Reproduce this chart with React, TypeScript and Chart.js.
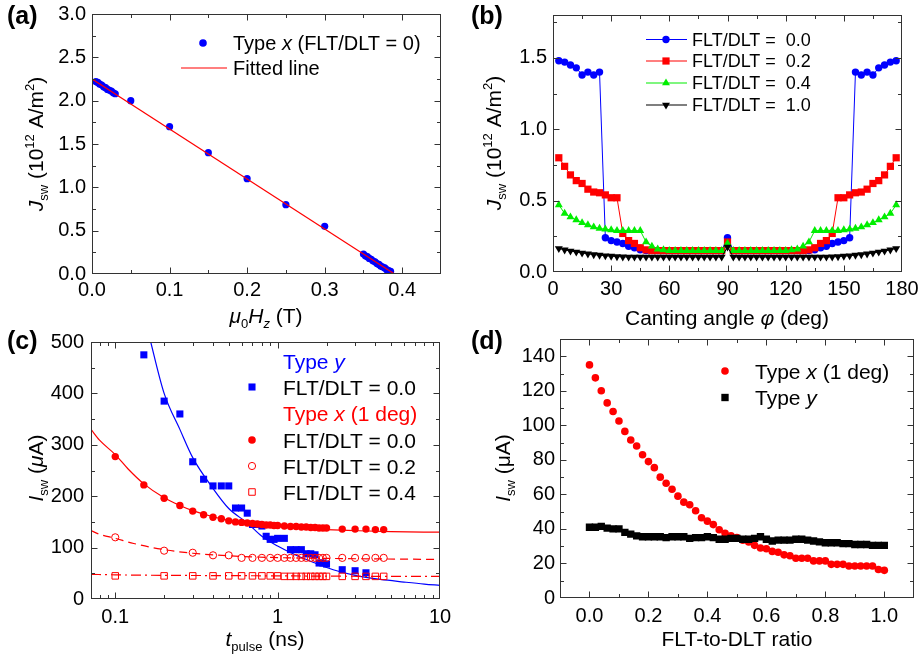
import React, { useEffect, useRef } from "react";
import { Chart, registerables } from "chart.js";
Chart.register(...registerables);

const FF = "'Liberation Sans', Arial, Helvetica, sans-serif";
const BLUE = "#0000ff";
const RED = "#ff0000";
const GREEN = "#00ee00";
const BLACK = "#000000";

// ---------------- Panel (a) ----------------
const aField = [0.005, 0.0075, 0.01, 0.0125, 0.015, 0.0175, 0.02, 0.0225, 0.025, 0.0275, 0.03, 0.05, 0.1, 0.15, 0.2, 0.25, 0.3, 0.35, 0.3525, 0.355, 0.3575, 0.36, 0.3625, 0.365, 0.3675, 0.37, 0.3725, 0.375, 0.3775, 0.38, 0.3825, 0.385];
const aJsw = [2.22, 2.21, 2.19, 2.18, 2.16, 2.15, 2.13, 2.12, 2.11, 2.09, 2.08, 2.0, 1.7, 1.4, 1.1, 0.8, 0.55, 0.23, 0.21, 0.2, 0.18, 0.17, 0.15, 0.14, 0.12, 0.11, 0.09, 0.08, 0.07, 0.05, 0.04, 0.03];
const aFitField = [0, 0.39];
const aFitJsw = [2.25, 0];
const aXTicks = [0, 0.1, 0.2, 0.3, 0.4];
const aXLabels = ["0.0", "0.1", "0.2", "0.3", "0.4"];
const aXMinor = [0.05, 0.15, 0.25, 0.35];
const aYTicks = [0, 0.5, 1, 1.5, 2, 2.5, 3];
const aYLabels = ["0.0", "0.5", "1.0", "1.5", "2.0", "2.5", "3.0"];
const aYMinor = [0.25, 0.75, 1.25, 1.75, 2.25, 2.75];

// ---------------- Panel (b) ----------------
const bAngle = [3, 6, 9, 12, 15, 18, 21, 24, 27, 30, 33, 36, 39, 42, 45, 48, 51, 54, 57, 60, 63, 66, 69, 72, 75, 78, 81, 84, 87, 90, 93, 96, 99, 102, 105, 108, 111, 114, 117, 120, 123, 126, 129, 132, 135, 138, 141, 144, 147, 150, 153, 156, 159, 162, 165, 168, 171, 174, 177];
const bR00 = [1.48, 1.47, 1.45, 1.43, 1.38, 1.40, 1.38, 1.40,
  0.24, 0.22, 0.21, 0.20, 0.18, 0.17, 0.155,
  0.15, 0.15, 0.15, 0.15, 0.15, 0.15, 0.15, 0.15, 0.15, 0.15, 0.15, 0.15, 0.15, 0.15,
  0.24,
  0.15, 0.15, 0.15, 0.15, 0.15, 0.15, 0.15, 0.15, 0.15, 0.15, 0.15, 0.15, 0.15, 0.15,
  0.155, 0.17, 0.18, 0.20, 0.21, 0.22, 0.24,
  1.40, 1.38, 1.40, 1.38, 1.43, 1.45, 1.47, 1.48];
const bR02 = [0.80, 0.74, 0.68, 0.64, 0.62, 0.58, 0.56, 0.555, 0.54, 0.52, 0.52,
  0.27, 0.22, 0.20, 0.17,
  0.155, 0.15, 0.15, 0.15, 0.15, 0.15, 0.15, 0.15, 0.15, 0.15, 0.15, 0.15, 0.15, 0.15,
  0.21,
  0.15, 0.15, 0.15, 0.15, 0.15, 0.15, 0.15, 0.15, 0.15, 0.15, 0.15, 0.15, 0.15, 0.155,
  0.17, 0.20, 0.22, 0.27,
  0.52, 0.52, 0.54, 0.555, 0.56, 0.58, 0.62, 0.64, 0.68, 0.74, 0.80];
const bR04 = [0.47, 0.41, 0.385, 0.365, 0.345, 0.33, 0.315, 0.305, 0.30, 0.295, 0.29, 0.29, 0.29, 0.29, 0.29,
  0.21, 0.18, 0.16, 0.155,
  0.15, 0.15, 0.15, 0.15, 0.15, 0.15, 0.15, 0.15, 0.15, 0.15,
  0.20,
  0.15, 0.15, 0.15, 0.15, 0.15, 0.15, 0.15, 0.15, 0.15, 0.15,
  0.155, 0.16, 0.18, 0.21,
  0.29, 0.29, 0.29, 0.29, 0.29, 0.295, 0.30, 0.305, 0.315, 0.33, 0.345, 0.365, 0.385, 0.41, 0.47];
const bR10 = [0.165, 0.155, 0.147, 0.14, 0.133, 0.127, 0.122, 0.118, 0.114, 0.111, 0.108, 0.106, 0.105,
  0.105, 0.105, 0.105, 0.105, 0.105, 0.105, 0.105, 0.105, 0.105, 0.105, 0.105, 0.105, 0.105, 0.105, 0.105, 0.105,
  0.175,
  0.105, 0.105, 0.105, 0.105, 0.105, 0.105, 0.105, 0.105, 0.105, 0.105, 0.105, 0.105, 0.105, 0.105, 0.105, 0.105,
  0.105, 0.106, 0.108, 0.111, 0.114, 0.118, 0.122, 0.127, 0.133, 0.14, 0.147, 0.155, 0.165];
const bXTicks = [0, 30, 60, 90, 120, 150, 180];
const bXLabels = ["0", "30", "60", "90", "120", "150", "180"];
const bXMinor = [15, 45, 75, 105, 135, 165];
const bYTicks = [0, 0.5, 1, 1.5];
const bYLabels = ["0.0", "0.5", "1.0", "1.5"];
const bYMinor = [0.25, 0.75, 1.25, 1.75];

// ---------------- Panel (c) ----------------
const cYPulse = [0.15, 0.2, 0.25, 0.3, 0.35, 0.4, 0.45, 0.5, 0.55, 0.6, 0.65, 0.7, 0.75, 0.8, 0.85, 0.9, 0.95, 1.0, 1.1, 1.2, 1.3, 1.4, 1.5, 1.6, 1.7, 1.8, 1.9, 2.0, 2.5, 3.0, 3.5];
const cYIsw = [475, 385, 360, 267, 233, 220, 220, 220, 177, 177, 167, 145, 145, 142, 122, 116, 116, 118, 118, 96, 96, 96, 88, 88, 86, 70, 70, 68, 57, 55, 51];
const cYFitPulse = [0.16, 0.2, 0.25, 0.3, 0.4, 0.5, 0.65, 0.8, 1, 1.3, 1.7, 2.2, 3, 4.3, 6, 8, 10];
const cYFitIsw = [518, 400, 330, 275, 215, 176, 148, 122, 103, 85, 70, 57, 46, 38, 33, 29, 26.5];
const cX0Pulse = [0.1, 0.15, 0.2, 0.25, 0.3, 0.35, 0.4, 0.45, 0.5, 0.55, 0.6, 0.65, 0.7, 0.75, 0.8, 0.85, 0.9, 0.95, 1.0, 1.1, 1.2, 1.3, 1.4, 1.5, 1.6, 1.7, 1.8, 1.9, 2.0, 2.5, 3.0, 3.5, 4.0, 4.5];
const cX0Isw = [277, 222, 196, 182, 171, 164, 159, 156, 152, 150, 149, 148, 147, 146, 145, 144, 144, 143, 143, 142, 141, 141, 140, 140, 139, 139, 138, 138, 138, 136, 136, 136, 135, 135];
const cX2Pulse = [0.1, 0.2, 0.3, 0.4, 0.5, 0.6, 0.7, 0.8, 0.9, 1.0, 1.1, 1.2, 1.3, 1.4, 1.5, 1.6, 1.7, 1.8, 1.9, 2.0, 2.5, 3.0, 3.5, 4.0, 4.5];
const cX2Isw = [120, 94, 90, 85, 85, 80, 80, 80, 80, 80, 80, 80, 80, 80, 80, 80, 80, 80, 80, 80, 80, 80, 80, 80, 80];
const cX4Pulse = [0.1, 0.2, 0.3, 0.4, 0.5, 0.6, 0.7, 0.8, 0.9, 1.0, 1.1, 1.2, 1.3, 1.4, 1.5, 1.6, 1.7, 1.8, 1.9, 2.0, 2.5, 3.0, 3.5, 4.0, 4.5];
const cX4Isw = [45, 45, 45, 45, 45, 45, 45, 45, 45, 45, 44, 44, 44, 44, 44, 44, 44, 44, 44, 44, 44, 44, 44, 44, 44];
const cX0FitPulse = [0.0709, 0.08, 0.1, 0.12, 0.15, 0.2, 0.25, 0.3, 0.4, 0.5, 0.7, 1, 1.5, 2, 3, 5, 10];
const cX0FitIsw = [330, 309, 281, 253, 224, 197, 182, 172, 160, 153, 146, 141, 137, 135, 133, 131, 130];
const cX2FitPulse = [0.0709, 0.08, 0.1, 0.13, 0.2, 0.3, 0.5, 0.7, 1, 2, 4, 10];
const cX2FitIsw = [133, 126, 118, 108, 96, 89, 84, 82, 80.5, 79, 78, 77];
const cX4FitPulse = [0.0709, 0.1, 0.2, 0.5, 1, 2, 5, 10];
const cX4FitIsw = [48, 47, 46, 45.5, 45, 44.5, 44, 44];
const cXTicks = [0.1, 1, 10];
const cXLabels = ["0.1", "1", "10"];
const cXMinor = [0.08, 0.09, 0.2, 0.3, 0.4, 0.5, 0.6, 0.7, 0.8, 0.9, 2, 3, 4, 5, 6, 7, 8, 9];
const cYTicks = [0, 100, 200, 300, 400, 500];
const cYLabels = ["0", "100", "200", "300", "400", "500"];
const cYMinor = [50, 150, 250, 350, 450];

// ---------------- Panel (d) ----------------
const dRatio = [0, 0.02, 0.04, 0.06, 0.08, 0.1, 0.12, 0.14, 0.16, 0.18, 0.2, 0.22, 0.24, 0.26, 0.28, 0.3, 0.32, 0.34, 0.36, 0.38, 0.4, 0.42, 0.44, 0.46, 0.48, 0.5, 0.52, 0.54, 0.56, 0.58, 0.6, 0.62, 0.64, 0.66, 0.68, 0.7, 0.72, 0.74, 0.76, 0.78, 0.8, 0.82, 0.84, 0.86, 0.88, 0.9, 0.92, 0.94, 0.96, 0.98, 1.0];
const dTypeX = [135, 127.5, 120, 113, 108, 102.5, 96.5, 91.5, 88, 83, 79, 75.5, 70, 66.5, 63, 59, 55.5, 54, 50.5, 46.5, 44.5, 42.5, 39.5, 37.5, 36, 35, 33.5, 32.5, 30.5, 29, 28.5, 27, 26.5, 25, 24.5, 23, 23, 23, 21.5, 21.5, 21.5, 19.5, 19.5, 19.5, 18.5, 18.5, 18.5, 18.5, 18.5, 16.5, 16];
const dTypeY = [41, 41, 41.5, 40.5, 40, 40, 38, 37, 36, 35.5, 35.5, 35.5, 35.5, 35, 35.5, 35.5, 35.5, 34.5, 35, 35, 35.5, 35, 34, 34, 34.5, 34.5, 34, 34, 34.5, 35.5, 34, 33, 33.5, 33.5, 33.5, 34, 34, 33.5, 33, 32.5, 32, 32, 32, 31.5, 31.5, 31, 31, 31, 30.5, 30.5, 30.5];
const dXTicks = [0, 0.2, 0.4, 0.6, 0.8, 1.0];
const dXLabels = ["0.0", "0.2", "0.4", "0.6", "0.8", "1.0"];
const dXMinor = [0.1, 0.3, 0.5, 0.7, 0.9];
const dYTicks = [0, 20, 40, 60, 80, 100, 120, 140];
const dYLabels = ["0", "20", "40", "60", "80", "100", "120", "140"];
const dYMinor = [10, 30, 50, 70, 90, 110, 130];

// ---------------- helpers ----------------
type Seg = { t: string; i?: boolean; sub?: boolean; sup?: boolean; b?: boolean };

function segFont(s: Seg, size: number) {
  const sz = s.sub || s.sup ? size * 0.62 : size;
  return `${s.i ? "italic " : ""}${s.b ? "bold " : ""}${sz}px ${FF}`;
}
function richWidth(ctx: CanvasRenderingContext2D, segs: Seg[], size: number) {
  let w = 0;
  for (const s of segs) {
    ctx.font = segFont(s, size);
    w += ctx.measureText(s.t).width;
  }
  return w;
}
function drawRich(ctx: CanvasRenderingContext2D, segs: Seg[], x: number, y: number, size: number, color: string, align: "left" | "center", rot = false) {
  ctx.save();
  ctx.translate(x, y);
  if (rot) ctx.rotate(-Math.PI / 2);
  ctx.fillStyle = color;
  ctx.textBaseline = "alphabetic";
  ctx.textAlign = "left";
  let cx = align === "center" ? -richWidth(ctx, segs, size) / 2 : 0;
  const base = size * 0.36;
  for (const s of segs) {
    ctx.font = segFont(s, size);
    const dy = s.sub ? size * 0.28 : s.sup ? -size * 0.42 : 0;
    ctx.fillText(s.t, cx, base + dy);
    cx += ctx.measureText(s.t).width;
  }
  ctx.restore();
}
function mark(ctx: CanvasRenderingContext2D, kind: string, x: number, y: number, r: number, color: string, filled: boolean) {
  ctx.save();
  ctx.beginPath();
  if (kind === "circle") ctx.arc(x, y, r, 0, Math.PI * 2);
  else if (kind === "rect") {
    const s = r * Math.SQRT1_2;
    ctx.rect(x - s, y - s, 2 * s, 2 * s);
  } else if (kind === "tri") {
    ctx.moveTo(x, y - r);
    ctx.lineTo(x + 0.866 * r, y + 0.5 * r);
    ctx.lineTo(x - 0.866 * r, y + 0.5 * r);
  } else if (kind === "tridown") {
    ctx.moveTo(x, y + r);
    ctx.lineTo(x + 0.866 * r, y - 0.5 * r);
    ctx.lineTo(x - 0.866 * r, y - 0.5 * r);
  }
  ctx.closePath();
  if (filled) {
    ctx.fillStyle = color;
    ctx.fill();
  } else {
    ctx.strokeStyle = color;
    ctx.lineWidth = 1;
    ctx.stroke();
  }
  ctx.restore();
}
function hline(ctx: CanvasRenderingContext2D, x1: number, x2: number, y: number, color: string) {
  ctx.save();
  ctx.strokeStyle = color;
  ctx.lineWidth = 1.2;
  ctx.beginPath();
  ctx.moveTo(x1, y);
  ctx.lineTo(x2, y);
  ctx.stroke();
  ctx.restore();
}
function panelLabel(ctx: CanvasRenderingContext2D, t: string, x: number, y: number) {
  drawRich(ctx, [{ t, b: true }], x, y, 25, "#000", "left");
}
function pts(xs: number[], ys: number[]) {
  return xs.map((x, i) => ({ x, y: ys[i] }));
}

type Ticks = { xMajor: number[]; xMinor: number[]; yMajor: number[]; yMinor: number[] };

function decorPlugin(ox: number, oy: number, t: Ticks, draw: (ctx: CanvasRenderingContext2D) => void) {
  return {
    id: "decor",
    afterDraw(chart: any) {
      const ctx: CanvasRenderingContext2D = chart.ctx;
      const a = chart.chartArea;
      const xs = chart.scales.x;
      const ys = chart.scales.y;
      const L = Math.round(a.left) + 0.5, R = Math.round(a.right) - 0.5;
      const T = Math.round(a.top) + 0.5, B = Math.round(a.bottom) - 0.5;
      ctx.save();
      ctx.strokeStyle = "#333";
      ctx.lineWidth = 1;
      ctx.strokeRect(L, T, R - L, B - T);
      ctx.beginPath();
      const tx = (vals: number[], len: number) => {
        for (const v of vals) {
          const p = Math.round(xs.getPixelForValue(v)) + 0.5;
          if (p <= L + 1 || p >= R - 1) continue;
          ctx.moveTo(p, B); ctx.lineTo(p, B - len);
          ctx.moveTo(p, T); ctx.lineTo(p, T + len);
        }
      };
      const ty = (vals: number[], len: number) => {
        for (const v of vals) {
          const p = Math.round(ys.getPixelForValue(v)) + 0.5;
          if (p <= T + 1 || p >= B - 1) continue;
          ctx.moveTo(L, p); ctx.lineTo(L + len, p);
          ctx.moveTo(R, p); ctx.lineTo(R - len, p);
        }
      };
      tx(t.xMajor, 6); tx(t.xMinor, 3.5);
      ty(t.yMajor, 6); ty(t.yMinor, 3.5);
      ctx.stroke();
      ctx.translate(-ox, -oy);
      draw(ctx);
      ctx.restore();
    },
  };
}

function xAxis(type: string, min: number, max: number, ticks: number[], labels: string[], height: number, pad: number) {
  return {
    type, position: "bottom", min, max,
    grid: { display: false, drawTicks: false },
    border: { display: false },
    ticks: {
      autoSkip: false, maxRotation: 0, minRotation: 0, padding: pad, color: "#000",
      font: { family: FF, size: 20 },
      callback: (_v: any, i: number) => labels[i],
    },
    afterBuildTicks: (s: any) => { s.ticks = ticks.map((v) => ({ value: v })); },
    afterFit: (s: any) => { s.height = height; s.paddingLeft = 0; s.paddingRight = 0; },
  };
}
function yAxis(min: number, max: number, ticks: number[], labels: string[], width: number, pad: number) {
  return {
    type: "linear", position: "left", min, max,
    grid: { display: false, drawTicks: false },
    border: { display: false },
    ticks: {
      autoSkip: false, padding: pad, color: "#000",
      font: { family: FF, size: 20 },
      callback: (_v: any, i: number) => labels[i],
    },
    afterBuildTicks: (s: any) => { s.ticks = ticks.map((v) => ({ value: v })); },
    afterFit: (s: any) => { s.width = width; s.paddingTop = 0; s.paddingBottom = 0; },
  };
}
function baseOptions(padding: any, scales: any) {
  return {
    responsive: false,
    maintainAspectRatio: false,
    animation: false,
    devicePixelRatio: 1,
    layout: { padding },
    plugins: { legend: { display: false }, tooltip: { enabled: false }, title: { display: false } },
    scales,
  };
}

// ---------------- chart configs ----------------
const JSW: Seg[] = [{ t: "J", i: true }, { t: "sw", sub: true }, { t: " (10" }, { t: "12", sup: true }, { t: " A/m" }, { t: "2", sup: true }, { t: ")" }];

function configA() {
  return {
    type: "scatter",
    data: {
      datasets: [
        { data: pts(aField, aJsw), pointRadius: 3.6, pointBorderWidth: 0, pointBackgroundColor: BLUE, showLine: false, order: 1 },
        { data: pts(aFitField, aFitJsw), showLine: true, borderColor: RED, borderWidth: 1.2, pointRadius: 0, order: 0 },
      ],
    },
    options: baseOptions({ left: 0, top: 14, right: 19, bottom: 0 }, {
      x: xAxis("linear", 0, 0.45, aXTicks, aXLabels, 56, 4),
      y: yAxis(0, 3, aYTicks, aYLabels, 92, 6),
    }),
    plugins: [decorPlugin(0, 0, { xMajor: aXTicks, xMinor: aXMinor, yMajor: aYTicks, yMinor: aYMinor }, (ctx) => {
      panelLabel(ctx, "(a)", 7, 15);
      drawRich(ctx, JSW, 35, 144, 21, "#000", "center", true);
      drawRich(ctx, [{ t: "μ", i: true }, { t: "0", sub: true }, { t: "H", i: true }, { t: "z", i: true, sub: true }, { t: " (T)" }], 266, 315, 21, "#000", "center");
      mark(ctx, "circle", 203, 43, 3.8, BLUE, true);
      drawRich(ctx, [{ t: "Type " }, { t: "x", i: true }, { t: " (FLT/DLT = 0)" }], 233, 43, 20, "#000", "left");
      hline(ctx, 181, 227, 68, RED);
      drawRich(ctx, [{ t: "Fitted line" }], 233, 68, 20, "#000", "left");
    })],
  };
}

function configB() {
  const ds = (ys: number[], color: string, style: string, rot: number, r: number, order: number) => ({
    data: pts(bAngle, ys), showLine: true, borderColor: color, borderWidth: 1,
    pointStyle: style, pointRotation: rot, pointRadius: r, pointBorderWidth: 0,
    pointBackgroundColor: color, order,
  });
  return {
    type: "scatter",
    data: {
      datasets: [
        ds(bR00, BLUE, "circle", 0, 3.7, 3),
        ds(bR02, RED, "rect", 0, 5.1, 2),
        ds(bR04, GREEN, "triangle", 0, 4.6, 1),
        ds(bR10, BLACK, "triangle", 180, 4.6, 0),
      ],
    },
    options: baseOptions({ left: 0, top: 15, right: 17, bottom: 0 }, {
      x: xAxis("linear", 0, 180, bXTicks, bXLabels, 58, 5),
      y: yAxis(0, 1.8, bYTicks, bYLabels, 93, 6),
    }),
    plugins: [decorPlugin(460, 0, { xMajor: bXTicks, xMinor: bXMinor, yMajor: bYTicks, yMinor: bYMinor }, (ctx) => {
      panelLabel(ctx, "(b)", 471, 15);
      drawRich(ctx, JSW, 493, 143, 21, "#000", "center", true);
      drawRich(ctx, [{ t: "Canting angle " }, { t: "φ", i: true }, { t: " (deg)" }], 727, 317, 21, "#000", "center");
      const rows: [string, string, number, string][] = [
        [BLUE, "circle", 3.7, "FLT/DLT =  0.0"],
        [RED, "rect", 5.1, "FLT/DLT =  0.2"],
        [GREEN, "tri", 4.6, "FLT/DLT =  0.4"],
        [BLACK, "tridown", 4.6, "FLT/DLT =  1.0"],
      ];
      const ysr = [39.5, 61, 83, 105];
      rows.forEach((row, i) => {
        hline(ctx, 646, 687, ysr[i], row[0]);
        mark(ctx, row[1], 666, ysr[i], row[2], row[0], true);
        drawRich(ctx, [{ t: row[3] }], 692, ysr[i], 18, "#000", "left");
      });
    })],
  };
}

function configC() {
  return {
    type: "scatter",
    data: {
      datasets: [
        { data: pts(cX0Pulse, cX0Isw), pointRadius: 3.7, pointBorderWidth: 0, pointBackgroundColor: RED, showLine: false, order: 0 },
        { data: pts(cX2Pulse, cX2Isw), pointRadius: 3.6, pointBorderWidth: 1, pointBorderColor: RED, pointBackgroundColor: "rgba(0,0,0,0)", showLine: false, order: 1 },
        { data: pts(cX4Pulse, cX4Isw), pointStyle: "rect", pointRadius: 4.6, pointBorderWidth: 1, pointBorderColor: RED, pointBackgroundColor: "rgba(0,0,0,0)", showLine: false, order: 2 },
        { data: pts(cX0FitPulse, cX0FitIsw), showLine: true, borderColor: RED, borderWidth: 1.2, pointRadius: 0, cubicInterpolationMode: "monotone", order: 3 },
        { data: pts(cX2FitPulse, cX2FitIsw), showLine: true, borderColor: RED, borderWidth: 1.2, borderDash: [8, 5], pointRadius: 0, cubicInterpolationMode: "monotone", order: 4 },
        { data: pts(cX4FitPulse, cX4FitIsw), showLine: true, borderColor: RED, borderWidth: 1.2, borderDash: [10, 4, 2, 4], pointRadius: 0, cubicInterpolationMode: "monotone", order: 5 },
        { data: pts(cYFitPulse, cYFitIsw), showLine: true, borderColor: BLUE, borderWidth: 1.2, pointRadius: 0, cubicInterpolationMode: "monotone", order: 6 },
        { data: pts(cYPulse, cYIsw), pointStyle: "rect", pointRadius: 5, pointBorderWidth: 0, pointBackgroundColor: BLUE, showLine: false, order: 7 },
      ],
    },
    options: baseOptions({ left: 0, top: 15, right: 20, bottom: 0 }, {
      x: xAxis("logarithmic", 0.0709, 10, cXTicks, cXLabels, 56, 6),
      y: yAxis(0, 500, cYTicks, cYLabels, 91, 7),
    }),
    plugins: [decorPlugin(0, 327, { xMajor: cXTicks, xMinor: cXMinor, yMajor: cYTicks, yMinor: cYMinor }, (ctx) => {
      panelLabel(ctx, "(c)", 7, 340);
      drawRich(ctx, [{ t: "I", i: true }, { t: "sw", sub: true }, { t: " (" }, { t: "μ", i: true }, { t: "A)" }], 35, 468, 21, "#000", "center", true);
      drawRich(ctx, [{ t: "t", i: true }, { t: "pulse", sub: true }, { t: " (ns)" }], 265, 638, 21, "#000", "center");
      const X = 283, M = 252;
      drawRich(ctx, [{ t: "Type " }, { t: "y", i: true }], X, 361, 21, BLUE, "left");
      mark(ctx, "rect", M, 387, 5, BLUE, true);
      drawRich(ctx, [{ t: "FLT/DLT = 0.0" }], X, 387, 21, "#000", "left");
      drawRich(ctx, [{ t: "Type " }, { t: "x", i: true }, { t: " (1 deg)" }], X, 413.5, 21, RED, "left");
      mark(ctx, "circle", M, 440, 3.8, RED, true);
      drawRich(ctx, [{ t: "FLT/DLT = 0.0" }], X, 440, 21, "#000", "left");
      mark(ctx, "circle", M, 466, 3.6, RED, false);
      drawRich(ctx, [{ t: "FLT/DLT = 0.2" }], X, 466, 21, "#000", "left");
      mark(ctx, "rect", M, 492, 4.6, RED, false);
      drawRich(ctx, [{ t: "FLT/DLT = 0.4" }], X, 492, 21, "#000", "left");
    })],
  };
}

function configD() {
  return {
    type: "scatter",
    data: {
      datasets: [
        { data: pts(dRatio, dTypeY), pointStyle: "rect", pointRadius: 5.2, pointBorderWidth: 0, pointBackgroundColor: BLACK, showLine: false, order: 0 },
        { data: pts(dRatio, dTypeX), pointRadius: 3.8, pointBorderWidth: 0, pointBackgroundColor: RED, showLine: false, order: 1 },
      ],
    },
    options: baseOptions({ left: 0, top: 12, right: 5, bottom: 0 }, {
      x: xAxis("linear", -0.1, 1.1, dXTicks, dXLabels, 57, 6),
      y: yAxis(0, 150, dYTicks, dYLabels, 100, 5),
    }),
    plugins: [decorPlugin(460, 327, { xMajor: dXTicks, xMinor: dXMinor, yMajor: dYTicks, yMinor: dYMinor }, (ctx) => {
      panelLabel(ctx, "(d)", 471, 340);
      drawRich(ctx, [{ t: "I", i: true }, { t: "sw", sub: true }, { t: " (μA)" }], 502, 468, 21, "#000", "center", true);
      drawRich(ctx, [{ t: "FLT-to-DLT ratio" }], 737, 638, 21, "#000", "center");
      mark(ctx, "circle", 725, 371, 3.8, RED, true);
      drawRich(ctx, [{ t: "Type " }, { t: "x", i: true }, { t: " (1 deg)" }], 755, 371, 21, "#000", "left");
      mark(ctx, "rect", 725, 397.5, 5.2, BLACK, true);
      drawRich(ctx, [{ t: "Type " }, { t: "y", i: true }], 755, 397.5, 21, "#000", "left");
    })],
  };
}

function Panel(props: { left: number; top: number; width: number; height: number; make: () => any }) {
  const ref = useRef<HTMLCanvasElement>(null);
  useEffect(() => {
    const chart = new Chart(ref.current as HTMLCanvasElement, props.make() as any);
    return () => chart.destroy();
  }, []);
  return (
    <canvas
      ref={ref}
      width={props.width}
      height={props.height}
      style={{ position: "absolute", left: props.left, top: props.top, width: props.width, height: props.height, display: "block" }}
    />
  );
}

export default function App() {
  return (
    <div style={{ position: "absolute", left: 0, top: 0, width: 919, height: 655, background: "#fff", overflow: "hidden" }}>
      <Panel left={0} top={0} width={460} height={330} make={configA} />
      <Panel left={460} top={0} width={459} height={330} make={configB} />
      <Panel left={0} top={327} width={460} height={328} make={configC} />
      <Panel left={460} top={327} width={459} height={328} make={configD} />
    </div>
  );
}
